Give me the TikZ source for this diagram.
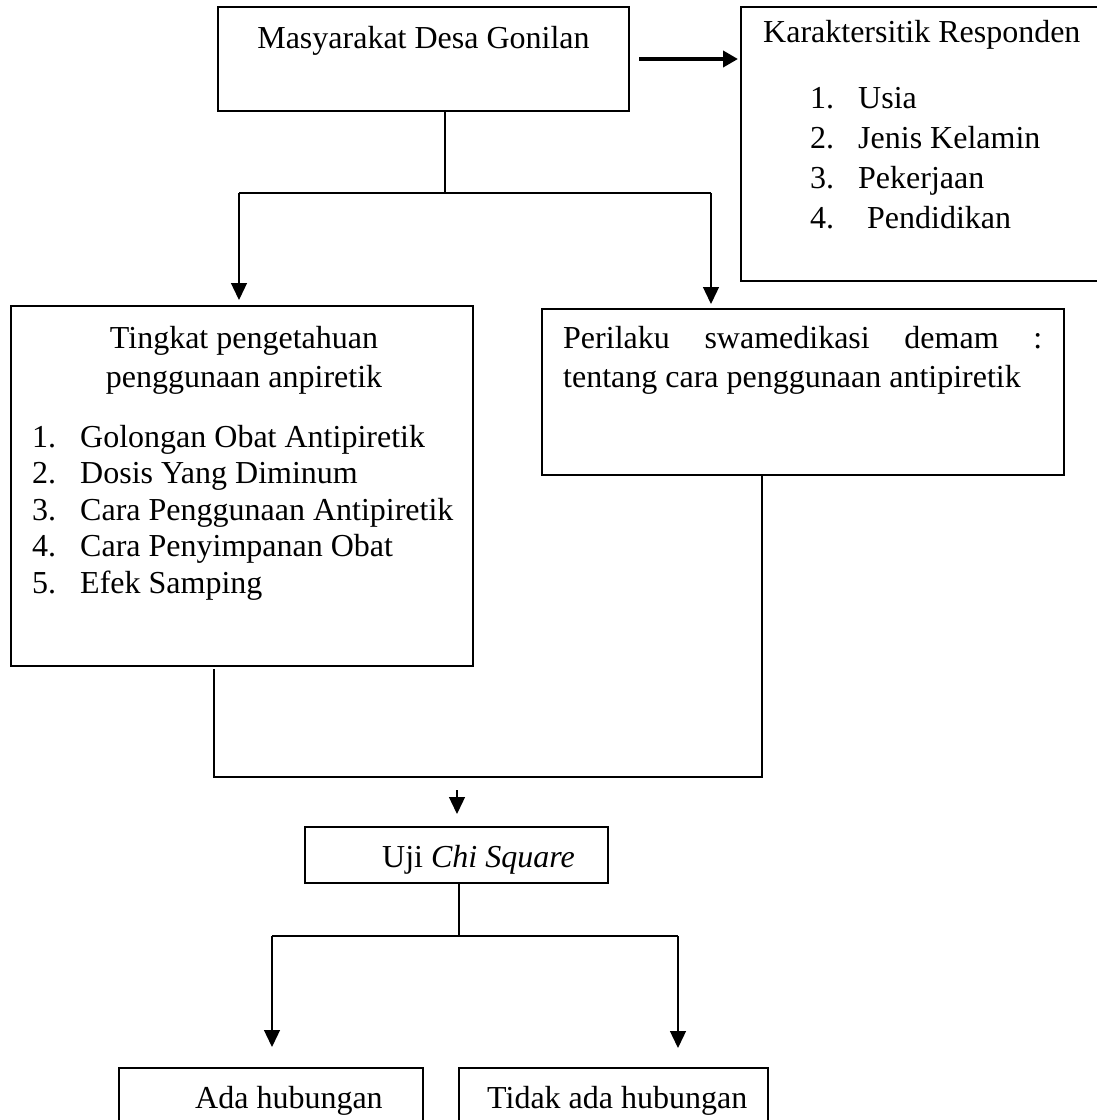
\documentclass[tikz,border=0pt]{standalone}
\usepackage{fontspec}
\setmainfont{Liberation Serif}
\usetikzlibrary{arrows.meta}
\begin{document}
\begin{tikzpicture}[x=1pt,y=-1pt,
  box/.style={draw, line width=1.8pt, inner sep=0pt, outer sep=0pt, anchor=north west},
  conn/.style={line width=1.3pt},
  arr/.style={conn, -{Triangle[length=17pt,width=16pt]}},
  bigarr/.style={line width=4pt, -{Triangle[length=15pt,width=16pt]}},
  txt/.style={inner sep=0pt, anchor=base west, font=\fontsize{32}{40}\selectfont},
  ctxt/.style={txt, anchor=base}]
\useasboundingbox (0,0) rectangle (1097,1120);
\clip (0,0) rectangle (1097,1120);
\fill[white] (0,0) rectangle (1097,1120);

% boxes
\node[box, minimum width=411pt, minimum height=104pt] (m) at (218,7) {};
\node[box, minimum width=369pt, minimum height=274pt] (k) at (741,7) {};
\node[box, minimum width=462pt, minimum height=360pt] (t) at (11,306) {};
\node[box, minimum width=522pt, minimum height=166pt] (p) at (542,309) {};
\node[box, minimum width=303pt, minimum height=56pt] (u) at (305,827) {};
\node[box, minimum width=304pt, minimum height=80pt] (a) at (119,1068) {};
\node[box, minimum width=309pt, minimum height=80pt] (n) at (459,1068) {};

% texts
\node[ctxt] (mt) at (423.5,48) {Masyarakat Desa Gonilan};
\node[txt] (kt) at (763,42) {Karaktersitik Responden};
\node[txt] (k1n) at (810,108) {1.};
\node[txt] (k1) at (858,108) {Usia};
\node[txt] (k2n) at (810,148) {2.};
\node[txt] (k2) at (858,148) {Jenis Kelamin};
\node[txt] (k3n) at (810,188) {3.};
\node[txt] (k3) at (858,188) {Pekerjaan};
\node[txt] (k4n) at (810,228) {4.};
\node[txt] (k4) at (867,228) {Pendidikan};

\node[ctxt] (tt1) at (244,348) {Tingkat pengetahuan};
\node[ctxt] (tt2) at (244,387) {penggunaan anpiretik};
\node[txt] (t1n) at (32,447) {1.};
\node[txt] (t1) at (80,447) {Golongan Obat Antipiretik};
\node[txt] (t2n) at (32,483.5) {2.};
\node[txt] (t2) at (80,483.5) {Dosis Yang Diminum};
\node[txt] (t3n) at (32,520) {3.};
\node[txt] (t3) at (80,520) {Cara Penggunaan Antipiretik};
\node[txt] (t4n) at (32,556.5) {4.};
\node[txt] (t4) at (80,556.5) {Cara Penyimpanan Obat};
\node[txt] (t5n) at (32,593) {5.};
\node[txt] (t5) at (80,593) {Efek Samping};

\node[txt] (pt1) at (563,348) {\makebox[479pt][s]{Perilaku swamedikasi demam :}};
\node[txt] (pt2) at (563,387) {tentang cara penggunaan antipiretik};

\node[txt] (ut) at (382,867) {Uji \textit{Chi Square}};
\node[txt] (at) at (195,1108) {Ada hubungan};
\node[txt] (nt) at (487,1108) {Tidak ada hubungan};

% junction coordinates
\coordinate (j1) at (445,193);
\coordinate (jl) at (239,193);
\coordinate (jr) at (711,193);
\coordinate (ka) at (738,59);
\coordinate (ms) at (639,59);
\coordinate (s1) at (214,669);
\coordinate (c1) at (214,777);
\coordinate (c2) at (762,777);
\coordinate (ua) at (457,790);
\coordinate (j2) at (459,936);
\coordinate (bl) at (272,936);
\coordinate (br) at (678,936);

% connectors
\draw[bigarr] (ms) -- (ka);
\draw[conn] (j1 |- m.south) -- (j1);
\draw[conn] (jl) -- (jr);
\draw[arr] (jl) -- ([yshift=6pt]jl |- t.north);
\draw[arr] (jr) -- ([yshift=5pt]jr |- p.north);
\draw[conn] (s1) -- (c1) -- (c2) -- (c2 |- p.south);
\draw[arr] (ua) -- ([yshift=13pt]ua |- u.north);
\draw[conn] (j2 |- u.south) -- (j2);
\draw[conn] (bl) -- (br);
\draw[arr] (bl) -- ([yshift=21pt]bl |- a.north);
\draw[arr] (br) -- ([yshift=20pt]br |- n.north);
\end{tikzpicture}
\end{document}
